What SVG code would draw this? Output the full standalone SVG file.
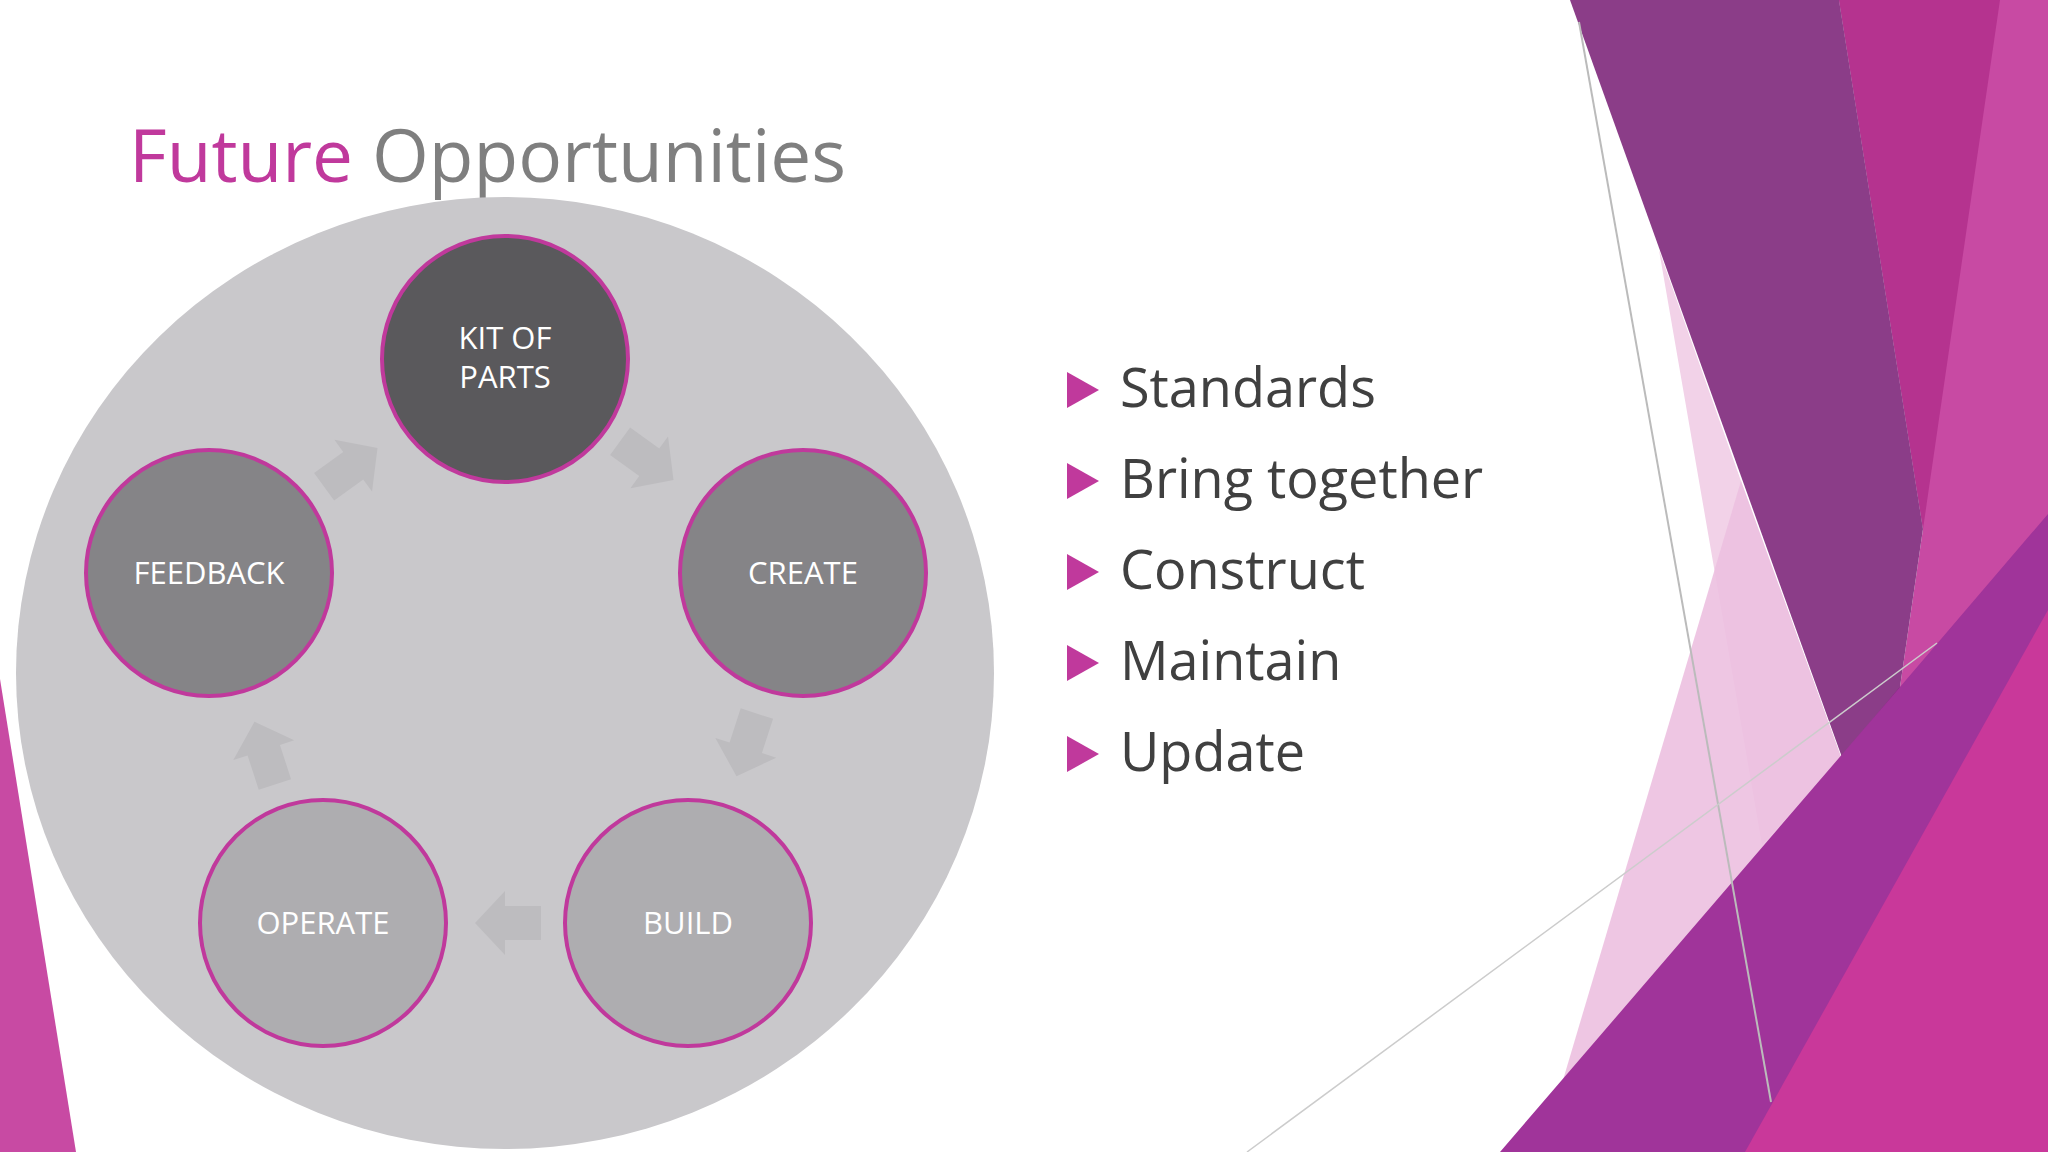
<svg xmlns="http://www.w3.org/2000/svg" width="2048" height="1152" viewBox="0 0 2048 1152">
<defs>
<style>
.nl{font-family:"Open Sans","Liberation Sans",sans-serif;font-size:31px;fill:#fff;text-anchor:middle}
.bt{font-family:"Open Sans","Liberation Sans",sans-serif;font-size:54px;fill:#404040}
.node{stroke:#c0399c;stroke-width:4}
.arr{fill:#bdbcbf}
.tri{fill:#c0399c}
</style>
<path id="ba" d="M-32,-17 H4 V-32 L34,0 L4,32 V17 H-32 Z"/>
</defs>
<rect width="2048" height="1152" fill="#ffffff"/>
<g id="background">
<polygon points="0,679 76,1152 0,1152" fill="#c84aa3"/>
<polygon points="1839,0 2048,0 2048,1152 1876,852 1923,529" fill="#c84aa3"/>
<polygon points="1839,0 2000,0 1923,529" fill="#b5338f"/>
<polygon points="1570,0 1839,0 1923,529 1876,852" fill="#8b3d88"/>
<polygon points="1659,250 1741,481 1841,757 1762,845" fill="#f2d2e8"/>
<polygon points="1741,481 1841,757 1563,1080" fill="#ecc0e0" opacity="0.9"/>
<polygon points="1841,757 1900,687 1876,852" fill="#720c70"/>
<polygon points="1500,1152 1900,687 2048,514 2048,1152" fill="#a0349a"/>
<polygon points="1745,1152 2048,610 2048,1152" fill="#c9389a"/>
<line x1="1579" y1="22" x2="1771" y2="1102" stroke="#bbb" stroke-width="2"/>
<line x1="1247" y1="1152" x2="1937" y2="643" stroke="#ccc" stroke-width="1.5"/>
</g>
<g id="title">
<text x="129" y="182" font-family="Open Sans,Liberation Sans,sans-serif" font-size="73"><tspan fill="#c0399c">Future</tspan><tspan fill="#7f7f7f"> Opportunities</tspan></text>
</g>
<ellipse id="bigcircle" cx="505" cy="673" rx="489" ry="476" fill="#c9c8cb"/>
<g id="connectors">
<use href="#ba" class="arr" transform="translate(646,460) rotate(36)"/>
<use href="#ba" class="arr" transform="translate(747,744) rotate(108)"/>
<use href="#ba" class="arr" transform="translate(509,923) rotate(180)"/>
<use href="#ba" class="arr" transform="translate(265,754) rotate(252)"/>
<use href="#ba" class="arr" transform="translate(350,468) rotate(-36)"/>
</g>
<g id="kit"><circle class="node" cx="505" cy="359" r="123" fill="#5a595c"/><text class="nl" x="505" y="349">KIT OF</text><text class="nl" x="505" y="388">PARTS</text></g>
<g id="create"><circle class="node" cx="803" cy="573" r="123" fill="#858487"/><text class="nl" x="803" y="584">CREATE</text></g>
<g id="build"><circle class="node" cx="688" cy="923" r="123" fill="#aeadb0"/><text class="nl" x="688" y="934">BUILD</text></g>
<g id="operate"><circle class="node" cx="323" cy="923" r="123" fill="#aeadb0"/><text class="nl" x="323" y="934">OPERATE</text></g>
<g id="feedback"><circle class="node" cx="209" cy="573" r="123" fill="#858487"/><text class="nl" x="209" y="584">FEEDBACK</text></g>
<g id="bullets">
<polygon class="tri" points="1067,372 1099,390 1067,408"/><text class="bt" x="1120" y="407">Standards</text>
<polygon class="tri" points="1067,463 1099,481 1067,499"/><text class="bt" x="1120" y="498">Bring together</text>
<polygon class="tri" points="1067,554 1099,572 1067,590"/><text class="bt" x="1120" y="589">Construct</text>
<polygon class="tri" points="1067,645 1099,663 1067,681"/><text class="bt" x="1120" y="680">Maintain</text>
<polygon class="tri" points="1067,736 1099,754 1067,772"/><text class="bt" x="1120" y="771">Update</text>
</g>
</svg>
